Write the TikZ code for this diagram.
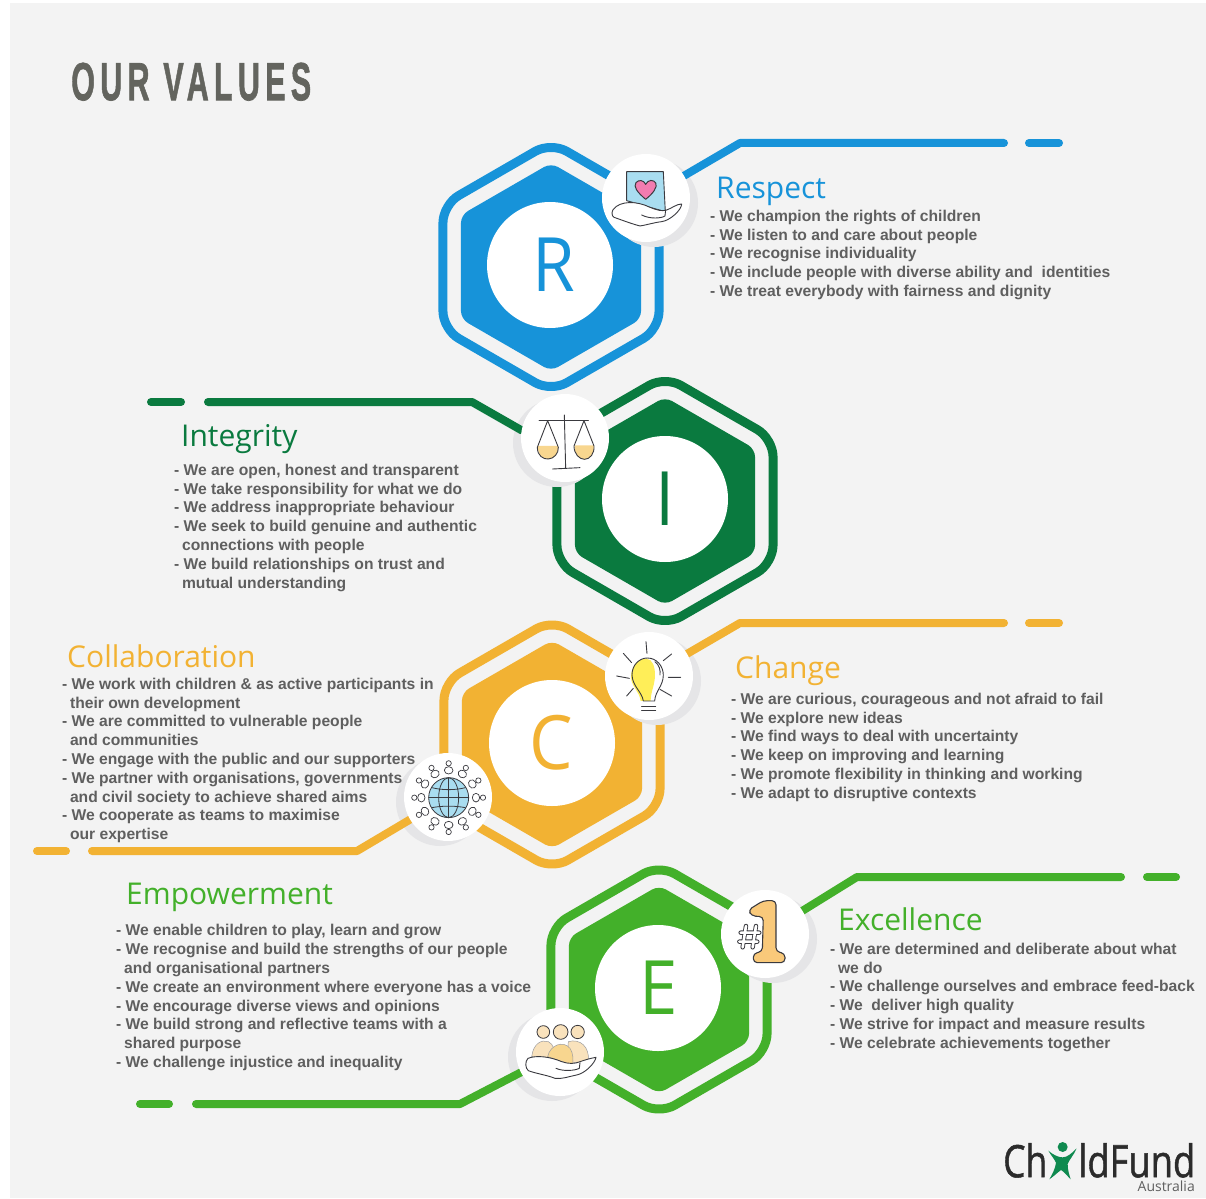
\documentclass[tikz,border=0pt]{standalone}
\usepackage{fontspec}
\usepackage{graphicx}
\usetikzlibrary{shapes.geometric}
\setmainfont{Liberation Sans}
\newfontfamily\headfont{Open Sans}
\newfontfamily\logofont[FakeBold=1.2]{Open Sans}
\newfontfamily\titlefont[LetterSpace=17,FakeBold=1.4]{Liberation Sans Bold}
\definecolor{panel}{HTML}{F3F3F3}
\definecolor{softshadow}{HTML}{E5E5E7}
\definecolor{bodygrey}{HTML}{5F5F5F}
\definecolor{titlegrey}{HTML}{63645E}
\definecolor{cR}{HTML}{1793D9}
\definecolor{cI}{HTML}{0A7A3F}
\definecolor{cC}{HTML}{F2B233}
\definecolor{cE}{HTML}{43B02A}
\definecolor{ink}{HTML}{3A3A3F}
\definecolor{sand}{HTML}{F8D68F}
\definecolor{sandlight}{HTML}{F9E2BC}
\definecolor{skyfill}{HTML}{A9DDF0}
\definecolor{heartpink}{HTML}{F27CB0}
\definecolor{bulbyellow}{HTML}{FFEE58}
\definecolor{logoink}{HTML}{2B2B2B}
\definecolor{logogreen}{HTML}{0F8A4F}
\pgfdeclarelayer{low}
\pgfdeclarelayer{mid}
\pgfsetlayers{low,mid,main}
\tikzset{
  ringhex/.style={regular polygon,regular polygon sides=6,shape border rotate=30,minimum size=249.5pt,inner sep=0,outer sep=0,draw=#1,line width=9pt,rounded corners=18pt,fill=none},
  corehex/.style={regular polygon,regular polygon sides=6,shape border rotate=30,minimum size=208pt,inner sep=0,outer sep=0,fill=#1,rounded corners=8pt},
  disc/.style={circle,fill=white,minimum size=126pt,inner sep=0,outer sep=0,text=#1,font=\headfont\fontsize{75}{75}\selectfont},
  spot/.style={circle,fill=white,minimum size=88pt,inner sep=0,outer sep=0},
  link/.style={draw=#1,line width=8pt,line cap=round,line join=round},
  heading/.style={anchor=base west,inner sep=0,text=#1,font=\headfont\fontsize{30}{30}\selectfont},
  bodytext/.style={anchor=north west,inner sep=0,outer sep=0,align=left,text=bodygrey,font=\bfseries\fontsize{15.64}{18.8}\selectfont},
  sketch/.style={draw=ink,line width=0.9pt,line cap=round,line join=round},
}
\newcommand{\hang}{\phantom{- }\hspace{-1.5pt}}
\newcommand{\shadowat}[3]{\fill[softshadow] (#1) ++(#2,#3) circle[radius=44];}
\newcommand{\discletter}[3]{\hspace{#2}\raisebox{#3}{\scalebox{0.92}[1]{#1}}}
\begin{document}
\begin{tikzpicture}[x=1pt,y=-1pt]
\useasboundingbox (0,0) rectangle (1206,1198);
\begin{pgfonlayer}{low}
\fill[panel] (10,3) rectangle (1206,1198);
\node[ringhex=cR] (ringR) at (551,267) {};
\node[corehex=cR] (coreR) at (551,267) {};
\node[disc=cR] (discR) at (550,265) {\discletter{R}{7pt}{-1pt}};
\shadowat{646,198}{8}{5}
\node[ringhex=cI] (ringI) at (665,501) {};
\node[corehex=cI] (coreI) at (665,501) {};
\node[disc=cI] (discI) at (665,499) {\discletter{I}{0pt}{-2pt}};
\shadowat{565,438}{-8}{5}
\node[ringhex=cC] (ringC) at (552,744.5) {};
\node[corehex=cC] (coreC) at (552,744.5) {};
\node[disc=cC] (discC) at (552,743) {\discletter{C}{-2pt}{-1pt}};
\shadowat{649,676}{8}{5}
\shadowat{448,797}{-8}{5}
\node[ringhex=cE] (ringE) at (659,989.5) {};
\node[corehex=cE] (coreE) at (659,989.5) {};
\node[disc=cE] (discE) at (658,988) {\discletter{E}{1pt}{-1pt}};
\shadowat{765,934}{8}{5}
\shadowat{560,1052}{-8}{5}
\end{pgfonlayer}

% title
\node[anchor=north west,inner sep=0,text=titlegrey] (title) at (71,62.5) {\resizebox{240pt}{37.5pt}{\titlefont OUR VALUES}};

% ---------- R
\node[spot] (iconR) at (646,198) {};
\coordinate (cornerR) at (740,143);
\coordinate (endR) at (1004,143);
\coordinate (dashRa) at (1029,143);
\coordinate (dashRb) at (1059,143);
\begin{pgfonlayer}{mid}
\draw[link=cR] (iconR) -- (cornerR) -- (endR);
\draw[link=cR] (dashRa) -- (dashRb);
\end{pgfonlayer}
\begin{scope}[shift={(420,130)},x=0.3333pt,y=-0.3333pt]
  \draw[sketch,fill=skyfill] (620,125)--(730,125)--(736,245)--(620,212)--cycle;
  \draw[sketch,fill=heartpink,line width=1pt] (677,208) .. controls (650,185) and (640,170) .. (648,158) .. controls (656,148) and (672,150) .. (677,163) .. controls (684,148) and (702,148) .. (708,160) .. controls (712,172) and (700,190) .. (677,208) -- cycle;
  \draw[sketch,fill=white] (580,238) .. controls (600,212) and (650,212) .. (690,232) .. controls (710,240) and (725,245) .. (740,240) .. controls (755,235) and (770,222) .. (785,222) .. controls (785,240) and (750,272) .. (725,275) .. controls (700,278) and (680,285) .. (660,288) .. controls (630,280) and (600,268) .. (582,262) .. controls (575,258) and (574,246) .. (580,238) -- cycle;
  \draw[sketch] (665,255) .. controls (690,268) and (725,265) .. (735,258) -- (737,240);
\end{scope}
\node[heading=cR] (headR) at (716,199) {Respect};
\node[bodytext] (bodyR) at (710,210) {- We champion the rights of children\\- We listen to and care about people\\- We recognise individuality\\- We include people with diverse ability and\ \ identities\\- We treat everybody with fairness and dignity};

% ---------- I
\node[spot] (iconI) at (565,438) {};
\coordinate (cornerI) at (472,402);
\coordinate (endI) at (208,402);
\coordinate (dashIa) at (181,402);
\coordinate (dashIb) at (151,402);
\begin{pgfonlayer}{mid}
\draw[link=cI] (iconI.170) -- (cornerI) -- (endI);
\draw[link=cI] (dashIa) -- (dashIb);
\end{pgfonlayer}
\begin{scope}[shift={(500,370)},x=0.3333pt,y=-0.3333pt]
  \fill[sand] (114,228) -- (174,228) .. controls (176,255) and (160,268) .. (143,267) .. controls (125,266) and (112,250) .. (114,228) -- cycle;
  \fill[sand] (224,226) -- (282,226) .. controls (284,252) and (268,268) .. (252,268) .. controls (235,266) and (222,250) .. (224,226) -- cycle;
  \draw[sketch] (117,150) -- (265,150);
  \draw[sketch] (193,135) -- (197,295);
  \draw[sketch] (158,297) -- (240,293);
  \draw[sketch] (143,152) -- (112,232) .. controls (112,258) and (130,268) .. (145,267) .. controls (162,266) and (176,250) .. (175,232) -- cycle;
  \draw[sketch] (252,152) -- (222,228) .. controls (222,252) and (238,268) .. (254,268) .. controls (270,268) and (284,250) .. (282,228) -- cycle;
\end{scope}
\node[heading=cI] (headI) at (181,446) {Integrity};
\node[bodytext] (bodyI) at (174,464) {- We are open, honest and transparent\\- We take responsibility for what we do\\- We address inappropriate behaviour\\- We seek to build genuine and authentic\\\hang connections with people\\- We build relationships on trust and\\\hang mutual understanding};

% ---------- C
\node[spot] (iconCa) at (649,676) {};
\node[spot] (iconCb) at (448,797) {};
\coordinate (cornerCa) at (740,623);
\coordinate (endCa) at (1004,623);
\coordinate (dashCa) at (1029,623);
\coordinate (dashCb) at (1059,623);
\coordinate (cornerCc) at (357,851);
\coordinate (endCc) at (92,851);
\coordinate (dashCc) at (66,851);
\coordinate (dashCd) at (37,851);
\begin{pgfonlayer}{mid}
\draw[link=cC] (iconCa) -- (cornerCa) -- (endCa);
\draw[link=cC] (dashCa) -- (dashCb);
\draw[link=cC] (iconCb) -- (cornerCc) -- (endCc);
\draw[link=cC] (dashCc) -- (dashCd);
\end{pgfonlayer}
\begin{scope}[shift={(390,620)},x=0.3333pt,y=-0.3333pt]
  % bulb
  \fill[bulbyellow] (770,116) .. controls (735,116) and (720,150) .. (724,180) .. controls (730,205) and (748,215) .. (752,243) -- (782,243) .. controls (782,215) and (795,195) .. (795,165) .. controls (795,140) and (788,118) .. (770,116) -- cycle;
  \draw[sketch] (760,243) .. controls (756,215) and (728,200) .. (726,165) .. controls (726,135) and (748,114) .. (772,114) .. controls (800,114) and (820,138) .. (820,165) .. controls (820,198) and (796,212) .. (794,243) -- cycle;
  \draw[sketch] (795,125) .. controls (808,135) and (812,150) .. (810,165);
  \draw[sketch] (755,258) -- (797,258) (755,270) -- (797,270);
  \draw[sketch] (768,65) -- (771,100) (700,100) -- (725,128) (845,102) -- (820,122) (680,168) -- (718,175) (835,172) -- (872,172) (710,228) -- (730,205) (810,208) -- (845,228);
  % globe with people
  \begin{scope}[shift={(176,533)}]
    \fill[skyfill] (0,0) circle[radius=60];
    \draw[sketch,line width=0.8pt] (0,0) circle[radius=60];
    \draw[sketch,line width=0.8pt] (0,-60) -- (0,60) (-60,0) -- (60,0);
    \draw[sketch,line width=0.8pt] (0,0) ellipse[x radius=30,y radius=60];
    \draw[sketch,line width=0.8pt] (-50,-30) .. controls (-20,-22) and (20,-22) .. (50,-30) (-50,30) .. controls (-20,24) and (20,24) .. (50,30);
    \foreach \a in {0,30,...,330}{
      \draw[sketch,line width=0.7pt,fill=white] (\a:103) circle[radius=8];
      \draw[sketch,line width=0.7pt,fill=white,rotate=\a] (82,0) ellipse[x radius=11,y radius=13];
    }
  \end{scope}
\end{scope}
\node[heading=cC] (headCa) at (67,667) {Collaboration};
\node[bodytext] (bodyCa) at (62,678) {- We work with children \& as active participants in\\\hang their own development\\- We are committed to vulnerable people\\\hang and communities\\- We engage with the public and our supporters\\- We partner with organisations, governments\\\hang and civil society to achieve shared aims\\- We cooperate as teams to maximise\\\hang our expertise};
\node[heading=cC] (headCb) at (735,678) {Change};
\node[bodytext] (bodyCb) at (731,693) {- We are curious, courageous and not afraid to fail\\- We explore new ideas\\- We find ways to deal with uncertainty\\- We keep on improving and learning\\- We promote flexibility in thinking and working\\- We adapt to disruptive contexts};

% ---------- E
\node[spot] (iconEa) at (765,934) {};
\node[spot] (iconEb) at (560,1052) {};
\coordinate (cornerEa) at (857,877);
\coordinate (endEa) at (1121,877);
\coordinate (dashEa) at (1147,877);
\coordinate (dashEb) at (1176,877);
\coordinate (cornerEc) at (460,1104);
\coordinate (endEc) at (196,1104);
\coordinate (dashEc) at (169,1104);
\coordinate (dashEd) at (140,1104);
\begin{pgfonlayer}{mid}
\draw[link=cE] (iconEa) -- (cornerEa) -- (endEa);
\draw[link=cE] (dashEa) -- (dashEb);
\draw[link=cE] (iconEb) -- (cornerEc) -- (endEc);
\draw[link=cE] (dashEc) -- (dashEd);
\end{pgfonlayer}
\begin{scope}[shift={(500,860)},x=0.3333pt,y=-0.3333pt]
  % hash and number one
  \draw[draw=ink,line width=4.4pt,line cap=round] (738,198) -- (728,262) (768,198) -- (758,262) (722,218) -- (778,218) (718,245) -- (772,245);
  \draw[draw=white,line width=2.6pt,line cap=round] (738,198) -- (728,262) (768,198) -- (758,262) (722,218) -- (778,218) (718,245) -- (772,245);
  \draw[sketch,line width=1.1pt,fill=sand!85!orange,rounded corners=4pt] (745,150) -- (790,122) -- (828,122) -- (828,275) -- (855,280) -- (855,308) -- (760,308) -- (760,280) -- (787,275) -- (790,170) -- (755,168) -- cycle;
  % people and hand
  \draw[sketch,line width=0.8pt,fill=sandlight] (130,516) circle[radius=19];
  \draw[sketch,line width=0.8pt,fill=sandlight] (182,516) circle[radius=22];
  \draw[sketch,line width=0.8pt,fill=sandlight] (233,516) circle[radius=20];
  \draw[draw=ink!50,line width=0.5pt,fill=sandlight] (95,590) .. controls (100,550) and (125,538) .. (145,545) .. controls (160,552) and (165,570) .. (165,595) -- cycle;
  \draw[draw=ink!50,line width=0.5pt,fill=sandlight] (205,545) .. controls (240,535) and (270,560) .. (265,605) -- (200,610) -- cycle;
  \draw[draw=ink!50,line width=0.5pt,fill=sand] (143,590) .. controls (150,555) and (190,540) .. (210,565) .. controls (220,580) and (220,600) .. (218,615) -- cycle;
  \draw[sketch,fill=white] (84,595) .. controls (110,585) and (150,590) .. (185,605) .. controls (205,612) and (225,612) .. (240,605) .. controls (255,600) and (270,595) .. (288,592) .. controls (285,610) and (255,640) .. (230,645) .. controls (205,650) and (185,658) .. (165,655) .. controls (140,645) and (105,640) .. (85,632) .. controls (76,625) and (74,605) .. (84,595) -- cycle;
  \draw[sketch] (168,625) .. controls (190,635) and (225,632) .. (238,625) -- (240,608);
\end{scope}
\node[heading=cE] (headEa) at (126,904) {Empowerment};
\node[bodytext] (bodyEa) at (116,924.5) {- We enable children to play, learn and grow\\- We recognise and build the strengths of our people\\\hang and organisational partners\\- We create an environment where everyone has a voice\\- We encourage diverse views and opinions\\- We build strong and reflective teams with a\\\hang shared purpose\\- We challenge injustice and inequality};
\node[heading=cE] (headEb) at (838,930) {Excellence};
\node[bodytext] (bodyEb) at (830,943) {- We are determined and deliberate about what\\\hang we do\\- We challenge ourselves and embrace feed-back\\- We\ \ deliver high quality\\- We strive for impact and measure results\\- We celebrate achievements together};

% ---------- logo
\node[anchor=north west,inner sep=0,text=logoink] (logoCh) at (1003,1143) {\resizebox{44pt}{34pt}{\logofont Ch}};
\node[anchor=north west,inner sep=0,text=logoink] (logoRest) at (1078,1143) {\resizebox{117pt}{34pt}{\logofont ldFund}};
\begin{scope}[shift={(980,1120)},x=0.3333pt,y=-0.3333pt]
  \fill[logogreen] (248,81) circle[radius=15];
  \fill[logogreen] (205,92) .. controls (220,105) and (235,112) .. (248,112) .. controls (262,112) and (275,100) .. (290,85) .. controls (282,105) and (268,118) .. (263,132) .. controls (263,150) and (268,165) .. (272,178) .. controls (262,168) and (252,155) .. (243,150) .. controls (232,158) and (220,170) .. (208,178) .. controls (218,160) and (226,145) .. (228,128) .. controls (222,115) and (212,105) .. (205,92) -- cycle;
\end{scope}
\node[anchor=base east,inner sep=0,text=bodygrey,font=\headfont\fontsize{14}{14}\selectfont] (logoPlace) at (1195,1191) {Australia};
\end{tikzpicture}
\end{document}
